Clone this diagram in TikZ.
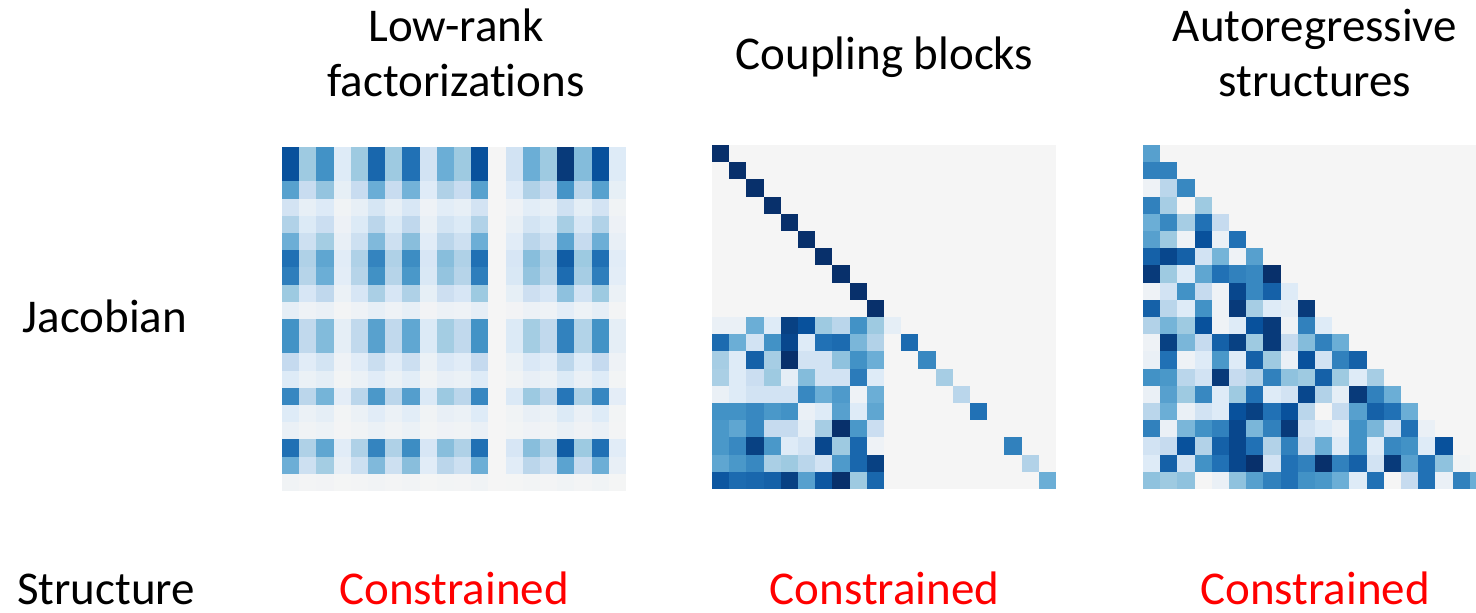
\documentclass[tikz,border=0pt]{standalone}
\usepackage{fontspec}
\setmainfont{Carlito}[Ligatures=NoCommon]
\usetikzlibrary{positioning}
% Blues ramp, level 0 = empty cell
\definecolor{ramp0}{HTML}{F5F5F5}
\definecolor{ramp1}{HTML}{DEEBF7}
\definecolor{ramp2}{HTML}{C6DBEF}
\definecolor{ramp3}{HTML}{9ECAE1}
\definecolor{ramp4}{HTML}{6BAED6}
\definecolor{ramp5}{HTML}{4292C6}
\definecolor{ramp6}{HTML}{2171B5}
\definecolor{ramp7}{HTML}{08519C}
\definecolor{ramp8}{HTML}{08306B}
\newcommand{\cellsz}{17.2}
% \heatcell{left}{top}{level 0..8}
\newcommand{\heatcell}[3]{%
  \pgfmathtruncatemacro{\lo}{min(floor(#3),7)}%
  \pgfmathtruncatemacro{\hi}{\lo+1}%
  \pgfmathtruncatemacro{\pc}{round(100*((#3)-\lo))}%
  \colorlet{cellfill}{ramp\hi!\pc!ramp\lo}%
  \fill[fill=cellfill] (#1,#2) rectangle ++(\cellsz,\cellsz);}

\begin{document}
\begin{tikzpicture}[x=0.5pt, y=-0.5pt,
    bigtext/.style={font=\fontsize{23.5}{27.5}\selectfont, inner sep=0pt},
    heading/.style={bigtext, align=center, anchor=base},
    rowlabel/.style={bigtext, anchor=base},
    verdict/.style={bigtext, anchor=base, text=red}
]
    \useasboundingbox (0,0) rectangle (1476,613);

    % Column headings (base = last line)
    \node[heading] (lowrank) at (456,97) {Low-rank\\factorizations};
    \node[heading] (coupling) at (884.5,70) {Coupling blocks};
    \node[heading] (autoreg) at (1315,97) {Autoregressive\\structures};

    % Row labels
    \node[rowlabel] (jacobian) at (105,333) {Jacobian};
    \node[rowlabel] (structure) at (106,604) {Structure};

    % Low-rank: level = row factor * column level
    \fill[ramp0] (282,147) rectangle ++(344,344);
    \foreach \r [count=\i from 0] in {1,1,0.64,0.21,0.36,0.57,0.86,0.8,0.43,0.1,0.71,0.71,0.29,0.14,0.76,0.14,0.07,0.86,0.57,0.03} {
        \foreach \c [count=\j from 0] in {7,3,5,1,3,6.3,3,6,1.5,4,3,7,0,1.5,4,3,7.7,3.5,7,1} {
            \heatcell{282+\cellsz*\j}{147+\cellsz*\i}{\r*\c}
        }
    }

    % Coupling: identity half, diagonal scale, dense lower-left block
    \fill[ramp0] (712,145) rectangle ++(344,344);
    \foreach \v [count=\i from 0] in {8,8,8,8,8,8,8,8,8,8,0.7,6.2,5.3,2.8,2.3,6,0,5.5,2.5,4} {
        \heatcell{712+\cellsz*\i}{145+\cellsz*\i}{\v}
    }
    \foreach \row [count=\i from 10] in {
        {0.5,0.5,4,1,7.5,7,3,2.3,5,3},
        {6.2,4,1.5,5,7.3,1,6,6.2,3.7,2.5},
        {2.8,1,6.5,2.8,8,1.5,1.5,3.3,5,4},
        {2.7,1,1.8,3,0.7,3.5,1.5,1.5,5.7,1},
        {0.5,1,1.5,1.5,1.5,5.3,4,4.7,0.3,4},
        {5,5,5.3,4.8,5,0.5,1,4.5,1,4.3},
        {4.8,4.3,5.3,2,2,0.7,2.8,8,4.8,1.8},
        {4.8,5.3,7.5,4.8,1,1.5,7.3,3,6.3,0.3},
        {4.3,4.8,5.3,2.7,3,2.3,1.5,4.7,6.3,7.5},
        {6.8,6.2,6.3,6.5,7.5,4.5,6.8,8,3,6.3}} {
        \foreach \v [count=\j from 0] in \row {
            \heatcell{712+\cellsz*\j}{145+\cellsz*\i}{\v}
        }
    }

    % Autoregressive: lower triangle
    \fill[ramp0] (1143,145) rectangle ++(344,344);
    \foreach \row [count=\i from 0] in {
        {4.5},
        {5.5,5.5},
        {0.3,2.3,5.3},
        {5.5,2.8,0,3},
        {4,5.3,2.8,6,2},
        {4.5,3,0.3,7,0.5,6},
        {6.5,7.3,6.5,1.5,3.8,0.3,4.5},
        {7.7,3,1,4.3,6,5.5,5.3,8},
        {0.3,1.5,5,2,0.3,7.3,5.3,6.5,1},
        {6.5,2.3,1,5,0.3,7.7,2.8,1,0.7,7.7},
        {2.5,3.8,3,7,0.3,1,7,7.7,0.3,5.5,1},
        {0.3,7.5,3.7,2,6.5,7.5,3,7.7,2,3.5,5.5,4},
        {0.5,6,0.3,1,4.8,1,6.5,3,0.5,7,1.5,5.5,6.5},
        {5,4.8,2.3,1.5,7.7,2,2.5,5.5,3.3,3,6.5,3,1,2.8},
        {0.5,4.5,3,5.3,1,3,6,1,1.5,7.3,2.5,0.7,7.7,5.5,4},
        {2.3,4,0.5,1.5,1,7,7.5,6,7,2.3,0,2,4.5,6.5,6,4},
        {5.5,0.5,3.7,5,5.5,7.3,3.7,5.5,7.7,1.5,1,0.5,5,3.7,1.5,6,0.5},
        {1.5,2,7,2.5,6.5,7.3,6,2.5,5.5,2,4,1,5,1,5.3,5,1,7},
        {1,6.5,1.5,5,6,7.3,8,1.5,6,5.5,8,5.5,6.5,1.5,7.7,4.5,6,3.3,0.2},
        {3.3,3,3.3,0,0.5,3.3,4.5,5.5,6,5,4.8,4,1,6,0,2,6,0.5,5.5,4}} {
        \foreach \v [count=\j from 0] in \row {
            \heatcell{1143+\cellsz*\j}{145+\cellsz*\i}{\v}
        }
    }

    % Structure verdicts
    \node[verdict] (verdict1) at (454,604) {Constrained};
    \node[verdict] (verdict2) at (884.5,604) {Constrained};
    \node[verdict] (verdict3) at (1315,604) {Constrained};

\end{tikzpicture}
\end{document}
